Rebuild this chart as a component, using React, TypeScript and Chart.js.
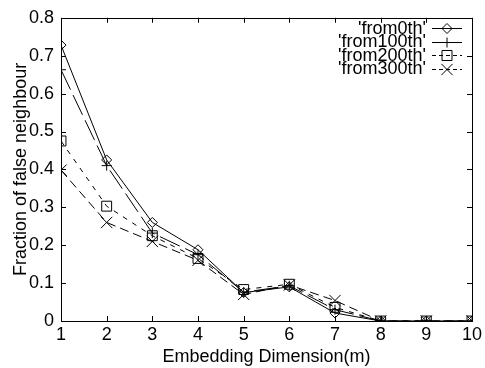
import React, { useEffect, useRef } from "react";
import { Chart, registerables } from "chart.js";

Chart.register(...registerables);

const dims = [1, 2, 3, 4, 5, 6, 7, 8, 9, 10];
const from0th = [0.728, 0.425, 0.26, 0.188, 0.075, 0.09, 0.021, 0, 0, 0];
const from100th = [0.663, 0.41, 0.232, 0.175, 0.076, 0.093, 0.03, 0, 0, 0];
const from200th = [0.475, 0.303, 0.225, 0.165, 0.083, 0.097, 0.036, 0, 0, 0];
const from300th = [0.398, 0.26, 0.21, 0.16, 0.07, 0.095, 0.054, 0, 0, 0];
const seriesNames = ["'from0th'", "'from100th'", "'from200th'", "'from300th'"];
const xTickLabels = ["1", "2", "3", "4", "5", "6", "7", "8", "9", "10"];
const yTickLabels = ["0", "0.1", "0.2", "0.3", "0.4", "0.5", "0.6", "0.7", "0.8"];

const FONT = "'Liberation Sans', Arial, Helvetica, sans-serif";
const FS = 18;

const styles = [
  { dash: [] as number[], shape: "diamond", pt: "rectRot", r: 5 },
  { dash: [22, 6], shape: "plus", pt: "cross", r: 5 },
  { dash: [5, 6], shape: "square", pt: "rect", r: 7 },
  { dash: [9, 5], shape: "x", pt: "crossRot", r: 8 },
];

function drawMarker(ctx: CanvasRenderingContext2D, shape: string, x: number, y: number) {
  ctx.beginPath();
  if (shape === "diamond") {
    ctx.moveTo(x, y - 5);
    ctx.lineTo(x + 5, y);
    ctx.lineTo(x, y + 5);
    ctx.lineTo(x - 5, y);
    ctx.closePath();
  } else if (shape === "plus") {
    ctx.moveTo(x - 5, y);
    ctx.lineTo(x + 5, y);
    ctx.moveTo(x, y - 5);
    ctx.lineTo(x, y + 5);
  } else if (shape === "square") {
    ctx.rect(x - 5, y - 5, 10, 10);
  } else {
    ctx.moveTo(x - 5.6, y - 5.6);
    ctx.lineTo(x + 5.6, y + 5.6);
    ctx.moveTo(x + 5.6, y - 5.6);
    ctx.lineTo(x - 5.6, y + 5.6);
  }
  ctx.stroke();
}

const framePlugin = {
  id: "frame",
  afterDraw(chart: any) {
    const ctx: CanvasRenderingContext2D = chart.ctx;
    const { left, right, top, bottom } = chart.chartArea;
    const xs = chart.scales.x;
    const ys = chart.scales.y;
    ctx.save();
    ctx.strokeStyle = "#000";
    ctx.lineWidth = 1;
    ctx.setLineDash([]);
    ctx.beginPath();
    dims.forEach((d) => {
      const px = Math.round(xs.getPixelForValue(d)) + 0.5;
      ctx.moveTo(px, bottom);
      ctx.lineTo(px, bottom - 5);
      ctx.moveTo(px, top);
      ctx.lineTo(px, top + 5);
    });
    yTickLabels.forEach((_, i) => {
      const py = Math.round(ys.getPixelForValue(i * 0.1)) + 0.5;
      ctx.moveTo(left, py);
      ctx.lineTo(left + 5, py);
      ctx.moveTo(right, py);
      ctx.lineTo(right - 5, py);
    });
    ctx.stroke();
    ctx.strokeRect(Math.round(left) + 0.5, Math.round(top) + 0.5, Math.round(right - left), Math.round(bottom - top));

    ctx.font = `${FS}px ${FONT}`;
    ctx.fillStyle = "#000";
    ctx.textAlign = "right";
    ctx.textBaseline = "middle";
    const rows = [28, 41.5, 55, 68.5];
    seriesNames.forEach((name, i) => {
      const y = rows[i];
      ctx.fillText(name, 426, y + 1);
      ctx.setLineDash(i >= 2 ? [4, 3] : []);
      ctx.beginPath();
      ctx.moveTo(432, Math.round(y) + 0.5);
      ctx.lineTo(462, Math.round(y) + 0.5);
      ctx.stroke();
      ctx.setLineDash([]);
      drawMarker(ctx, styles[i].shape, 447, Math.round(y) + 0.5);
    });
    ctx.restore();
  },
};

export default function App() {
  const ref = useRef<HTMLCanvasElement | null>(null);
  useEffect(() => {
    document.body.style.margin = "0";
    if (!ref.current) return;
    const series = [from0th, from100th, from200th, from300th];
    const chart = new Chart(ref.current, {
      type: "line",
      data: {
        datasets: series.map((s, i) => ({
          label: seriesNames[i],
          data: dims.map((d, j) => ({ x: d, y: s[j] })),
          borderColor: "#000",
          borderWidth: 1,
          borderDash: styles[i].dash,
          backgroundColor: "rgba(0,0,0,0)",
          pointStyle: styles[i].pt as any,
          pointRadius: styles[i].r,
          pointBorderColor: "#000",
          pointBorderWidth: 1,
          pointBackgroundColor: "rgba(0,0,0,0)",
          tension: 0,
          fill: false,
        })),
      },
      options: {
        animation: false,
        responsive: false,
        maintainAspectRatio: false,
        layout: { padding: { top: 16, right: 10, left: 0, bottom: 0 } },
        plugins: { legend: { display: false }, tooltip: { enabled: false } },
        scales: {
          x: {
            type: "linear",
            min: 1,
            max: 10,
            afterFit: (s: any) => {
              s.height = 47;
            },
            afterBuildTicks: (s: any) => {
              s.ticks = dims.map((d) => ({ value: d }));
            },
            grid: { display: false, drawTicks: false },
            border: { display: false },
            ticks: {
              padding: 3,
              color: "#000",
              font: { family: FONT, size: FS },
              maxRotation: 0,
              autoSkip: false,
              callback: (_v: any, i: number) => xTickLabels[i],
            },
            title: {
              display: true,
              text: "Embedding Dimension(m)",
              color: "#000",
              font: { family: FONT, size: FS },
              padding: { top: 0, bottom: 0 },
            },
          },
          y: {
            type: "linear",
            min: 0,
            max: 0.8,
            afterFit: (s: any) => {
              s.width = 61;
            },
            afterBuildTicks: (s: any) => {
              s.ticks = yTickLabels.map((_, i) => ({ value: i / 10 }));
            },
            grid: { display: false, drawTicks: false },
            border: { display: false },
            ticks: {
              padding: 7,
              color: "#000",
              font: { family: FONT, size: FS },
              autoSkip: false,
              callback: (_v: any, i: number) => yTickLabels[i],
            },
            title: {
              display: true,
              text: "Fraction of false neighbour",
              color: "#000",
              font: { family: FONT, size: FS },
              padding: { top: 10, bottom: 0 },
            },
          },
        },
      },
      plugins: [framePlugin],
    });
    return () => chart.destroy();
  }, []);
  return <canvas ref={ref} width={485} height={368} style={{ display: "block", width: 485, height: 368 }} />;
}
